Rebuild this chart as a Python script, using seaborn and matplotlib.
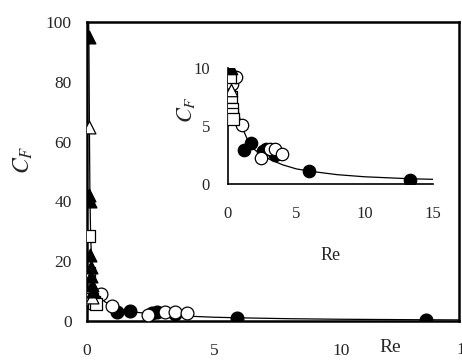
import numpy as np
import pandas as pd
import matplotlib
matplotlib.use('Agg')
import matplotlib.pyplot as plt
import seaborn as sns

# data (Re, C_F)
filled_circ_re = [1.2, 1.7, 2.55, 2.75, 3.45, 5.9, 13.3]
filled_circ_cf = [2.9, 3.5, 2.85, 3.0, 2.5, 1.15, 0.3]
open_circ_re = [0.3, 0.55, 1.0, 2.4, 3.05, 3.45, 3.95]
open_circ_cf = [8.6, 9.2, 5.1, 2.2, 3.05, 3.0, 2.6]
square_re = [0.1, 0.1, 0.12, 0.2, 0.27, 0.3, 0.34]
square_cf = [28.5, 16.0, 9.2, 7.5, 6.5, 6.0, 5.6]
open_tri_re = [0.1, 0.22]
open_tri_cf = [65.0, 8.1]
filled_tri_re = [0.08, 0.1, 0.12, 0.12, 0.15, 0.18, 0.2, 0.25]
filled_tri_cf = [95.0, 42.0, 40.0, 22.0, 18.0, 15.0, 12.0, 10.0]

# fitted curve
curve_re = [0.07, 0.08, 0.1, 0.12, 0.15, 0.2, 0.3, 0.45, 0.7, 1.0, 1.5, 2.0, 3.0, 4.0, 5.0, 6.0, 8.0, 10.0, 13.3, 15.0]
curve_cf = [100, 95, 65, 42, 28, 18, 12, 9.0, 6.5, 5.0, 3.6, 2.9, 2.15, 1.65, 1.3, 1.1, 0.8, 0.62, 0.45, 0.4]

sns.set_style('white')
plt.rcParams['font.family'] = ['Liberation Serif', 'DejaVu Serif']
plt.rcParams['mathtext.fontset'] = 'stix'

fig = plt.figure(figsize=(4.62, 3.6), dpi=100)
ax = fig.add_axes([0.188, 0.108, 0.805, 0.831])
ins = fig.add_axes([0.4935, 0.489, 0.4437, 0.322])

series = [
    (filled_circ_re, filled_circ_cf, 'o', 'black'),
    (open_circ_re, open_circ_cf, 'o', 'white'),
    (square_re, square_cf, 's', 'white'),
    (open_tri_re, open_tri_cf, '^', 'white'),
    (filled_tri_re, filled_tri_cf, '^', 'black'),
]

curve = pd.DataFrame({'Re': curve_re, 'CF': curve_cf})

for a, s in [(ax, 85), (ins, 80)]:
    sns.lineplot(data=curve, x='Re', y='CF', sort=False, color='black', lw=0.9, ax=a)
    for xs, ys, m, fc in series:
        df = pd.DataFrame({'Re': xs, 'CF': ys})
        sns.scatterplot(data=df, x='Re', y='CF', marker=m, s=s, facecolor=fc,
                        edgecolor='black', linewidth=0.9, ax=a, zorder=3)

# main axes
ax.set_xlim(0, 14.6)
ax.set_ylim(0, 100)
ax.set_xticks([0, 5, 10])
ax.set_yticks([0, 20, 40, 60, 80, 100])
ax.tick_params(direction='in', length=4, width=1, labelsize=12.5, color='black')
ax.tick_params(axis='x', pad=16)
ax.tick_params(axis='y', pad=11)
for sp in ax.spines.values():
    sp.set_linewidth(1.8)
    sp.set_color('black')
ax.set_xlabel('Re', fontsize=14)
ax.xaxis.set_label_coords(0.815, -0.087)
ax.xaxis.label.set_va('center')
ax.set_ylabel(r'$C_F$', fontsize=17)
ax.yaxis.set_label_coords(-0.14, 0.54)
ax.text(14.85, -0.097, '15', transform=ax.get_xaxis_transform(), ha='center',
        va='center', fontsize=12.5, clip_on=False)

# inset
ins.set_xlim(0, 15)
ins.set_ylim(0, 10)
ins.set_xticks([0, 5, 10, 15])
ins.set_yticks([0, 5, 10])
ins.tick_params(direction='in', length=4, width=1, labelsize=12, color='black')
ins.tick_params(axis='x', pad=16)
ins.tick_params(axis='y', pad=13)
ins.spines['top'].set_visible(False)
ins.spines['right'].set_visible(False)
for k in ['left', 'bottom']:
    ins.spines[k].set_linewidth(1.2)
    ins.spines[k].set_color('black')
ins.set_xlabel('Re', fontsize=13)
ins.xaxis.set_label_coords(0.5, -0.54)
ins.set_ylabel(r'$C_F$', fontsize=16)
ins.yaxis.set_label_coords(-0.15, 0.64)
ins.patch.set_alpha(0)

fig.savefig('out.png', dpi=100)
